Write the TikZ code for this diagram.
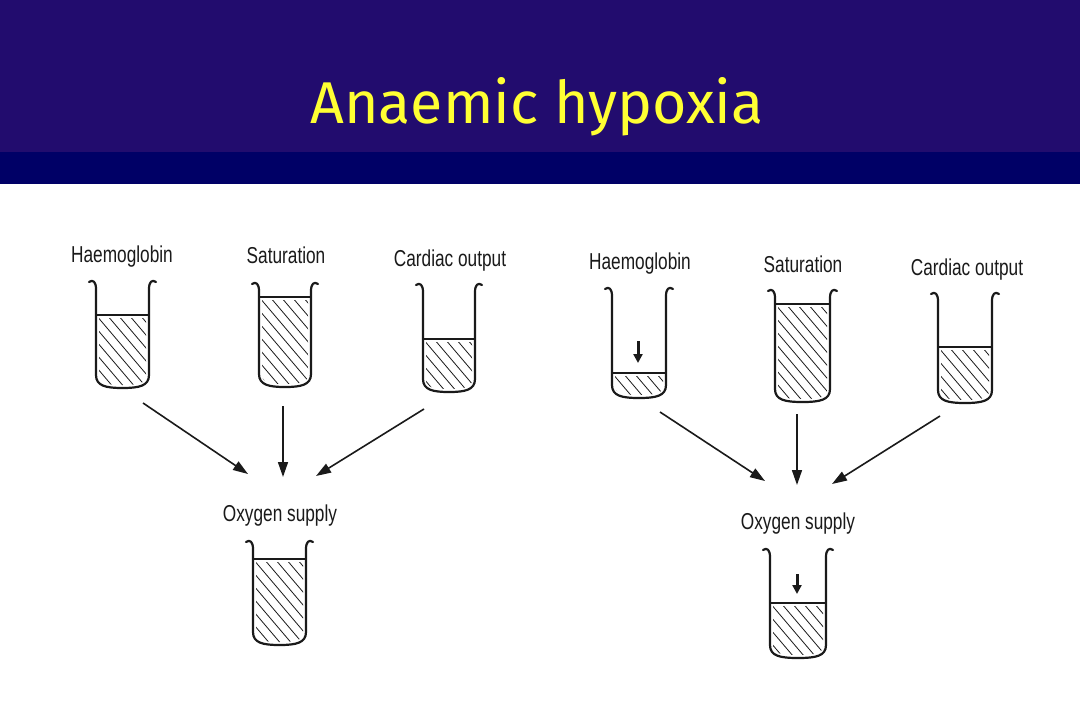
\documentclass[tikz,border=0pt]{standalone}
\usepackage{fontspec}
\setmainfont{Liberation Sans}
\newfontfamily\titlefont{Fira Sans}
\newfontfamily\labfont[FakeStretch=0.75]{Liberation Sans}
\usetikzlibrary{arrows.meta}
\definecolor{titlebg}{HTML}{220C6E}
\definecolor{bandbg}{HTML}{000066}
\definecolor{titlefg}{HTML}{FFFF33}
\definecolor{ink}{HTML}{1A1A1A}
\tikzset{
  wall/.style={draw=ink, line width=2.2pt, line cap=round, line join=round},
  hatch/.style={draw=ink, line width=0.8pt},
  level/.style={draw=ink, line width=1.3pt},
  lab/.style={font=\labfont\fontsize{23}{23}\selectfont, text=ink, anchor=base, inner sep=0pt},
  flow/.style={draw=ink, line width=1.6pt, -{Triangle[length=15pt,width=10pt]}},
  drop/.style={draw=ink, line width=3pt, -{Triangle[length=9pt,width=9pt]}},
}
% #1 name, #2 left wall x, #3 right wall x, #4 rim y, #5 level y, #6 bottom y
\newcommand\mybeaker[6]{%
  \begin{scope}
    \clip (#2+3,#5+3) -- (#3-3,#5+3) -- (#3-3,#6-12)
      .. controls (#3-3,#6-5) and (#3-10,#6-3) .. ({(#2+#3)/2},#6-3)
      .. controls (#2+10,#6-3) and (#2+3,#6-5) .. (#2+3,#6-12) -- cycle;
    \foreach \k in {-10,...,6} \draw[hatch] ({#2+\k*11},#5) -- ++(85,100);
  \end{scope}
  \draw[wall] (#2-7,#4+2) .. controls (#2-3,#4-1) and (#2,#4+2) .. (#2,#4+9)
    -- (#2,#6-13) .. controls (#2,#6-2) and (#2+10,#6) .. ({(#2+#3)/2},#6)
    .. controls (#3-10,#6) and (#3,#6-2) .. (#3,#6-13)
    -- (#3,#4+9) .. controls (#3,#4+2) and (#3+3,#4-1) .. (#3+7,#4+2);
  \draw[level] (#2+1,#5) -- (#3-1,#5);
  \coordinate (#1) at ({(#2+#3)/2},#6);
}
\begin{document}
\begin{tikzpicture}[x=1pt,y=-1pt]
\useasboundingbox (0,0) rectangle (1080,720);
\fill[white] (0,0) rectangle (1080,720);
\fill[titlebg] (0,0) rectangle (1080,152);
\fill[bandbg] (0,152) rectangle (1080,184);
\node[anchor=base, text=titlefg, inner sep=0pt, font=\titlefont\fontsize{59}{59}\selectfont] (title) at (537,123) {Anaemic hypoxia};

% left diagram
\node[lab] (hbL) at (122,262) {Haemoglobin};
\node[lab] (saL) at (286,263) {Saturation};
\node[lab] (coL) at (450,266) {Cardiac output};
\mybeaker{bhbL}{96}{149}{280}{315}{388}
\mybeaker{bsaL}{259}{311}{282}{297}{387}
\mybeaker{bcoL}{423}{475}{283}{339}{392}
\node[lab] (oxL) at (280,521) {Oxygen supply};
\mybeaker{boxL}{253}{306}{540}{559}{645}
\coordinate (a1s) at (143,403); \coordinate (a1e) at (248,474);
\coordinate (a2s) at (283,406); \coordinate (a2e) at (283,477);
\coordinate (a3s) at (424,409); \coordinate (a3e) at (316,476);
\draw[flow] (a1s) -- (a1e);
\draw[flow] (a2s) -- (a2e);
\draw[flow] (a3s) -- (a3e);

% right diagram
\node[lab] (hbR) at (640,269) {Haemoglobin};
\node[lab] (saR) at (803,272) {Saturation};
\node[lab] (coR) at (967,275) {Cardiac output};
\mybeaker{bhbR}{612}{666}{287}{373}{398}
\mybeaker{bsaR}{775}{830}{289}{304}{402}
\mybeaker{bcoR}{938}{992}{292}{347}{403}
\node[lab] (oxR) at (798,529) {Oxygen supply};
\mybeaker{boxR}{770}{826}{548}{603}{658}
\coordinate (d1s) at (638,341); \coordinate (d1e) at (638,363);
\draw[drop] (d1s) -- (d1e);
\coordinate (d2s) at (797,574); \coordinate (d2e) at (797,594);
\draw[drop] (d2s) -- (d2e);
\coordinate (a4s) at (660,412); \coordinate (a4e) at (765,481);
\coordinate (a5s) at (797,414); \coordinate (a5e) at (797,485);
\coordinate (a6s) at (940,416); \coordinate (a6e) at (832,484);
\draw[flow] (a4s) -- (a4e);
\draw[flow] (a5s) -- (a5e);
\draw[flow] (a6s) -- (a6e);
\end{tikzpicture}
\end{document}
